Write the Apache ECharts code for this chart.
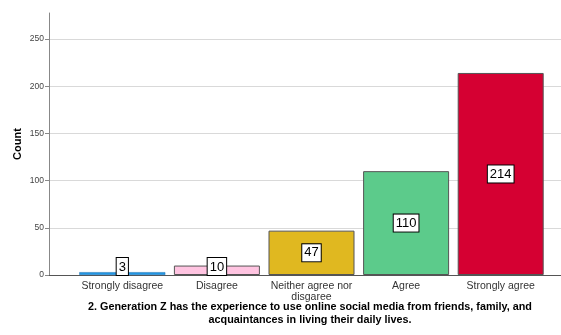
<!DOCTYPE html>
<html>
<head>
<meta charset="utf-8">
<script src="https://cdn.jsdelivr.net/npm/echarts@6/dist/echarts.min.js"></script>
<style>
  html, body { margin: 0; padding: 0; background: #fff; }
  #chart { width: 561px; height: 335px; }
</style>
</head>
<body>
<div id="chart"></div>
<script>
// Response categories and their counts
const categories = ['Strongly disagree', 'Disagree', 'Neither agree nor\ndisgaree', 'Agree', 'Strongly agree'];
const counts = [3, 10, 47, 110, 214];
const barColors = ['#2196e3', '#ffc4e1', '#e0b820', '#5ccb8b', '#d50032'];
const yTicks = [0, 50, 100, 150, 200, 250];
const yAxisTitle = 'Count';
const xAxisTitle = '2. Generation Z has the experience to use online social media from friends, family, and\nacquaintances in living their daily lives.';

const chart = echarts.init(document.getElementById('chart'), null, { renderer: 'canvas' });

const yMax = 277.5;
const font = 'Arial, "Liberation Sans", sans-serif';

const barData = counts.map((v, i) => {
  const item = {
    value: v,
    itemStyle: { color: barColors[i] }
  };
  // Small bars keep their label box resting on the baseline
  if (v < 20) {
    item.label = { position: 'insideBottom', distance: 0 };
  }
  // A very thin bar would be all outline; keep its fill visible
  if (v < 5) {
    item.itemStyle.borderColor = '#1a6fb0';
    item.itemStyle.borderWidth = 0.5;
  }
  return item;
});

chart.setOption({
  animation: false,
  backgroundColor: '#fff',
  grid: [
    { left: 49, right: 0, top: 13, bottom: 60, containLabel: false, outerBoundsMode: 'none' },
    { left: 75, right: 13, top: 13, bottom: 60, containLabel: false, outerBoundsMode: 'none' }
  ],
  xAxis: [
    {
      gridIndex: 0,
      type: 'category',
      data: [''],
      axisLine: { show: true, lineStyle: { color: '#555', width: 1 } },
      axisTick: { show: false },
      axisLabel: { show: false },
      name: xAxisTitle,
      nameLocation: 'middle',
      nameGap: 26,
      nameMoveOverlap: false,
      nameTextStyle: {
        fontFamily: font, fontWeight: 'bold', fontSize: 10.8, color: '#000',
        lineHeight: 13, align: 'center', padding: [0, 0, 0, 10]
      }
    },
    {
      gridIndex: 1,
      type: 'category',
      data: categories,
      axisLine: { show: false },
      axisTick: { show: false },
      axisLabel: {
        fontFamily: font, fontSize: 10.5, color: '#333', margin: 6,
        lineHeight: 11, interval: 0
      }
    }
  ],
  yAxis: [
    {
      gridIndex: 0,
      type: 'value',
      min: 0,
      max: yMax,
      interval: 50,
      axisLine: { show: true, lineStyle: { color: '#888', width: 1 } },
      axisTick: { show: true, length: 4, lineStyle: { color: '#888' } },
      axisLabel: {
        fontFamily: font, fontSize: 8.5, color: '#444', margin: 5,
        showMaxLabel: false,
        formatter: v => (yTicks.indexOf(v) >= 0 ? String(v) : '')
      },
      splitLine: { show: true, showMaxLine: false, lineStyle: { color: '#d9d9d9', width: 1 } },
      name: yAxisTitle,
      nameLocation: 'middle',
      nameGap: 26,
      nameRotate: 90,
      nameMoveOverlap: false,
      nameTextStyle: { fontFamily: font, fontWeight: 'bold', fontSize: 11, color: '#000' }
    },
    {
      gridIndex: 1,
      type: 'value',
      min: 0,
      max: yMax,
      interval: 50,
      show: false,
      splitLine: { show: false }
    }
  ],
  series: [
    {
      type: 'bar',
      xAxisIndex: 1,
      yAxisIndex: 1,
      data: barData,
      barWidth: 86,
      itemStyle: { borderColor: '#555', borderWidth: 1 },
      label: {
        show: true,
        position: 'inside',
        fontFamily: font,
        fontSize: 13,
        color: '#000',
        backgroundColor: '#fff',
        borderColor: '#000',
        borderWidth: 1,
        padding: [2, 2, 1, 2],
        lineHeight: 14
      }
    }
  ]
});
</script>
</body>
</html>
